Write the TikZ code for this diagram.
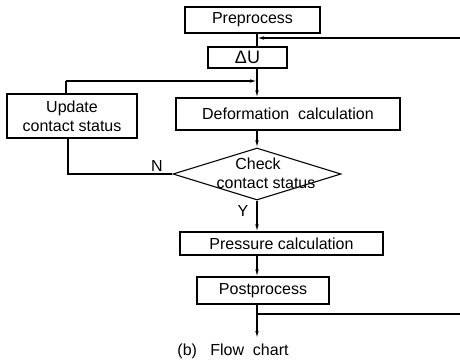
\documentclass[tikz,border=0pt]{standalone}
\usepackage{fontspec}
\setmainfont{Liberation Sans}
\usetikzlibrary{arrows.meta,shapes.geometric}
\begin{document}
\begin{tikzpicture}[x=1pt,y=-1pt,
  box/.style={draw,line width=1.1pt,inner sep=0pt,font=\fontsize{16}{18}\selectfont},
  conn/.style={line width=1.1pt},
  arr/.style={line width=1.1pt,-{Latex[length=7pt,width=3.5pt]}},
  lbl/.style={inner sep=0pt,font=\fontsize{16}{18}\selectfont}]
\useasboundingbox (0,0) rectangle (460,359);
\coordinate (ax) at (257,0);
\node[box,minimum width=135pt,minimum height=26pt] (pre) at (252.5,20) {Preprocess};
\node[box,minimum width=79pt,minimum height=21pt,font=\fontsize{18}{20}\selectfont] (du) at (247.5,57.5) {ΔU};
\node[box,minimum width=224pt,minimum height=32pt] (def) at (288,114) {Deformation\ \ calculation};
\node[box,minimum width=130pt,minimum height=44pt,align=center,font=\fontsize{16}{19}\selectfont] (upd) at (72,116) {Update\\contact status};
\node[draw,line width=1.1pt,diamond,minimum width=168pt,minimum height=52pt,inner sep=0pt] (chk) at (257,174) {};
\node[lbl] (chk1) at (258,164) {Check};
\node[lbl] (chk2) at (266,183) {contact status};
\node[box,minimum width=203pt,minimum height=23pt] (prs) at (281.5,243.5) {Pressure calculation};
\node[box,minimum width=132pt,minimum height=27pt] (post) at (263,290.5) {Postprocess};
\node[lbl] (nl) at (157,166) {N};
\node[lbl] (yl) at (243,211) {Y};
\node[lbl] (cap) at (233,351) {(b)\ \ \ Flow\ \ chart};
\coordinate (fbtop) at (460,38);
\coordinate (fbbot) at (460,314);
\coordinate (jtop) at (257,38);
\coordinate (jmid) at (257,81);
\coordinate (lcorner) at (66,81);
\coordinate (jbot) at (257,314);
\coordinate (endp) at (257,338);
% main flow
\draw[conn] (pre.south -| ax) -- (du.north -| ax);
\draw[arr] (fbtop) -- (jtop);
\draw[arr] (du.south -| ax) -- (def.north -| ax);
\draw[arr] (def.south -| ax) -- (chk.north);
\draw[arr] (chk.south) -- (prs.north -| ax);
\draw[arr] (prs.south -| ax) -- (post.north -| ax);
\draw[arr] (post.south -| ax) -- (endp);
\draw[conn] (jbot) -- (fbbot);
% loop
\draw[conn] (chk.west) -- (chk.west -| 68,0) -- (upd.south -| 68,0);
\draw[conn] (upd.north -| lcorner) -- (lcorner);
\draw[arr] (lcorner) -- (jmid);
\end{tikzpicture}
\end{document}
